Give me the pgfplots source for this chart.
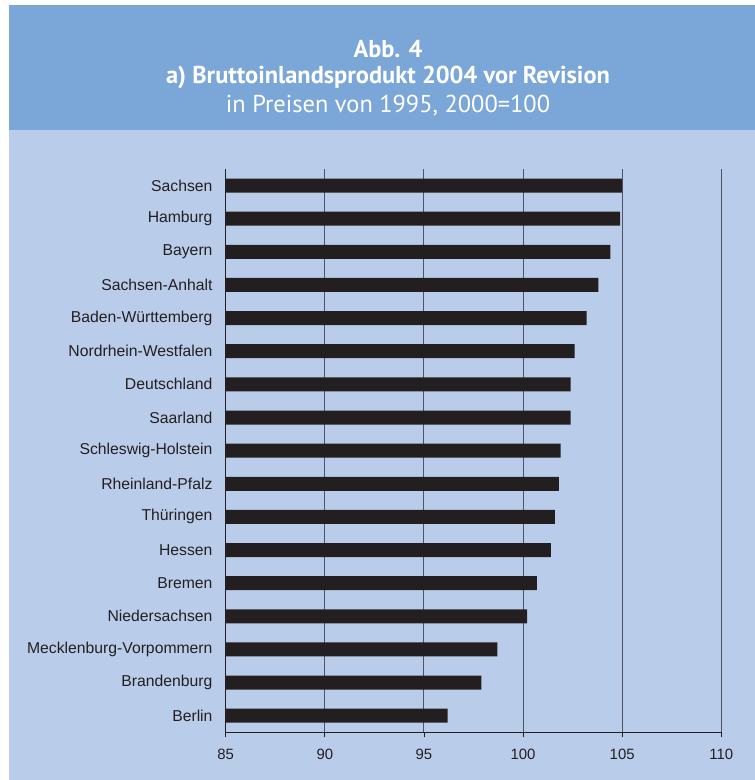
\documentclass[border=0pt]{standalone}
\usepackage{fontspec}
\setmainfont{Liberation Sans}
\newfontfamily\titlefont{PT Sans}
\usepackage{pgfplots}
\pgfplotsset{compat=1.18}
\definecolor{band}{HTML}{7BA6D8}
\definecolor{bg}{HTML}{B9CDEA}
\definecolor{barc}{HTML}{231F20}
\definecolor{gridc}{HTML}{4F5566}
\begin{document}
\begin{tikzpicture}[x=1bp,y=1bp]
\fill[white] (0,0) rectangle (755,780);
\fill[bg] (9,0) rectangle (755,650);
\fill[band] (9,650) rectangle (755,775);
\node[text=white, font=\titlefont\bfseries\fontsize{24.5}{28}\selectfont] at (388,731) {Abb. 4};
\node[text=white, font=\titlefont\bfseries\fontsize{24.5}{28}\selectfont] at (388,703) {a) Bruttoinlandsprodukt 2004 vor Revision};
\node[text=white, font=\titlefont\fontsize{24.5}{28}\selectfont] at (388,674) {in Preisen von 1995, 2000=100};
\begin{axis}[
  at={(225.7bp,47.7bp)}, anchor=south west,
  scale only axis, width=495.6bp, height=563.3bp,
  xbar, bar width=14bp,
  xmin=85, xmax=110, ymin=-0.5, ymax=16.5,
  xtick={85,90,...,110},
  ytick={0,...,16},
  yticklabels={Berlin,Brandenburg,Mecklenburg-Vorpommern,Niedersachsen,Bremen,Hessen,Thüringen,Rheinland-Pfalz,Schleswig-Holstein,Saarland,Deutschland,Nordrhein-Westfalen,Baden-Württemberg,Sachsen-Anhalt,Bayern,Hamburg,Sachsen},
  axis x line*=bottom, axis y line*=left,
  xtick pos=lower, xtick align=outside,
  major tick length=5bp,
  ytick style={draw=none},
  x tick style={draw=barc, line width=0.8bp},
  axis line style={draw=barc, line width=1bp},
  xmajorgrids, grid style={draw=gridc, line width=1bp},
  /pgf/number format/assume math mode=true,
  xticklabel style={font=\fontsize{15}{18}\selectfont, text=barc, yshift=-8bp},
  yticklabel style={font=\fontsize{15.8}{18}\selectfont, text=barc, inner sep=0pt, xshift=-8bp},
]
\addplot[fill=barc, draw=none] coordinates {
(96.2,0) (97.9,1) (98.7,2) (100.2,3) (100.7,4) (101.4,5) (101.6,6) (101.8,7) (101.9,8) (102.4,9) (102.4,10) (102.6,11) (103.2,12) (103.8,13) (104.4,14) (104.9,15) (105.0,16)
};
\end{axis}
\end{tikzpicture}
\end{document}
